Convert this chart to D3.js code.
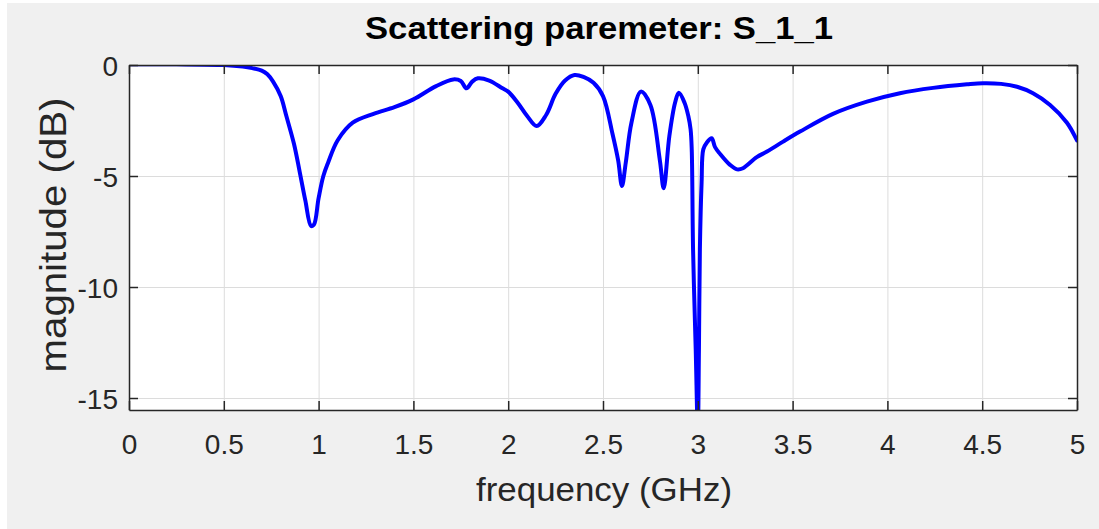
<!DOCTYPE html>
<html>
<head>
<meta charset="utf-8">
<script src="https://cdn.jsdelivr.net/npm/d3@7"></script>
<style>
  html, body { margin: 0; padding: 0; background: #fff; }
  svg text { font-family: "Liberation Sans", Arial, Helvetica, sans-serif; }
</style>
</head>
<body>
<svg id="chart" width="1099" height="529"></svg>
<script>
// S11 magnitude
const freq = [0, 0.25, 0.5, 0.6, 0.65, 0.7, 0.73, 0.76, 0.8, 0.83, 0.87, 0.9, 0.93, 0.96, 0.975,
  1.0, 1.025, 1.05, 1.1, 1.18, 1.29, 1.4, 1.5, 1.62, 1.71, 1.75, 1.78, 1.81, 1.84, 1.9, 1.97,
  2.0, 2.05, 2.1, 2.15, 2.2, 2.25, 2.3, 2.35, 2.4, 2.45, 2.5, 2.55, 2.58, 2.6, 2.62, 2.65,
  2.7, 2.75, 2.8, 2.82, 2.85, 2.88, 2.9, 2.93, 2.95, 2.962, 2.968, 2.975, 2.989, 3.0,
  3.006, 3.011, 3.02, 3.029, 3.047, 3.073, 3.091, 3.117, 3.17, 3.207, 3.238, 3.311, 3.365,
  3.45, 3.539, 3.713, 3.892, 4.066, 4.241, 4.42, 4.504, 4.6, 4.684, 4.768, 4.858, 4.947, 5.0];
const magDb = [0.03, 0.03, 0.0, -0.07, -0.14, -0.25, -0.42, -0.75, -1.4, -2.3, -3.55, -4.8, -6.1, -7.25, -7.2,
  -6.0, -5.0, -4.4, -3.4, -2.6, -2.2, -1.9, -1.55, -0.95, -0.65, -0.72, -1.05, -0.75, -0.6, -0.7, -1.05,
  -1.2, -1.7, -2.3, -2.75, -2.25, -1.3, -0.7, -0.45, -0.55, -0.8, -1.4, -3.1, -4.3, -5.45, -4.4, -2.6,
  -1.2, -1.8, -4.3, -5.55, -3.2, -1.7, -1.25, -1.7, -2.3, -2.9, -3.8, -8.3, -12.8, -16.5,
  -12.8, -8.3, -5.3, -3.8, -3.5, -3.3, -3.7, -4.0, -4.5, -4.7, -4.65, -4.15, -3.9,
  -3.45, -3.0, -2.2, -1.65, -1.27, -1.03, -0.87, -0.82, -0.85, -0.98, -1.27, -1.8, -2.6, -3.4];

const xTicks = [0, 0.5, 1, 1.5, 2, 2.5, 3, 3.5, 4, 4.5, 5];
const yTicks = [-15, -10, -5, 0];

const titleText = "Scattering paremeter: S_1_1";
const xLabel = "frequency (GHz)";
const yLabel = "magnitude (dB)";

const margin = {top: 65, right: 22, bottom: 119, left: 129};
const W = 1099, H = 529;
const width = W - margin.left - margin.right;
const height = H - margin.top - margin.bottom;
const ink = "#262626";

const svg = d3.select("#chart");

// figure background
svg.append("rect")
    .attr("x", 7).attr("y", 3)
    .attr("width", W - 7).attr("height", H - 3)
    .attr("fill", "#f0f0f0");

const x = d3.scaleLinear().domain([0, 5]).range([0, width]);
const y = d3.scaleLinear().domain([-15.54, 0]).range([height, 0]);

const g = svg.append("g").attr("transform", `translate(${margin.left},${margin.top})`);

g.append("rect").attr("width", width).attr("height", height).attr("fill", "#fff");

// grid
g.append("g")
    .attr("transform", `translate(0,${height})`)
    .call(d3.axisBottom(x).tickValues(xTicks).tickSize(-height).tickFormat(""))
    .call(a => a.select(".domain").remove())
    .call(a => a.selectAll("line").attr("stroke", "#dcdcdc").attr("stroke-width", 1));
g.append("g")
    .call(d3.axisLeft(y).tickValues(yTicks).tickSize(-width).tickFormat(""))
    .call(a => a.select(".domain").remove())
    .call(a => a.selectAll("line").attr("stroke", "#dcdcdc").attr("stroke-width", 1));

// data line, clipped to the axes
g.append("clipPath").attr("id", "plotclip")
    .append("rect").attr("width", width).attr("height", height);

const line = d3.line()
    .x((d, i) => x(freq[i]))
    .y(d => y(d))
    .curve(d3.curveCatmullRom.alpha(0.5));

g.append("path")
    .datum(magDb)
    .attr("clip-path", "url(#plotclip)")
    .attr("fill", "none")
    .attr("stroke", "#0000ff")
    .attr("stroke-width", 4)
    .attr("stroke-linejoin", "round")
    .attr("stroke-linecap", "round")
    .attr("d", line);

// axes with inward ticks (box on)
const styleAxis = a => {
    a.select(".domain").attr("stroke", ink).attr("stroke-width", 1.5);
    a.selectAll(".tick line").attr("stroke", ink).attr("stroke-width", 1.5);
    a.selectAll("text").attr("fill", ink).attr("font-size", 28)
        .attr("font-family", "'Liberation Sans', Arial, Helvetica, sans-serif");
};

g.append("g")
    .attr("transform", `translate(0,${height})`)
    .call(d3.axisBottom(x).tickValues(xTicks).tickSizeInner(-9).tickSizeOuter(0)
        .tickFormat(d => String(d)))
    .call(styleAxis)
    .call(a => a.selectAll("text").attr("y", 44).attr("dy", 0));

g.append("g")
    .call(d3.axisTop(x).tickValues(xTicks).tickSizeInner(-9).tickSizeOuter(0).tickFormat(""))
    .call(styleAxis);

g.append("g")
    .call(d3.axisLeft(y).tickValues(yTicks).tickSizeInner(-9).tickSizeOuter(0)
        .tickFormat(d => String(d)))
    .call(styleAxis)
    .call(a => a.selectAll("text").attr("x", -11).attr("dy", "0.36em"));

g.append("g")
    .attr("transform", `translate(${width},0)`)
    .call(d3.axisRight(y).tickValues(yTicks).tickSizeInner(-9).tickSizeOuter(0).tickFormat(""))
    .call(styleAxis);

// title and labels
svg.append("text")
    .attr("x", 599).attr("y", 39)
    .attr("text-anchor", "middle")
    .attr("font-size", 32).attr("font-weight", "bold")
    .attr("fill", "#000")
    .attr("textLength", 468).attr("lengthAdjust", "spacingAndGlyphs")
    .text(titleText);

svg.append("text")
    .attr("x", 604).attr("y", 501)
    .attr("text-anchor", "middle")
    .attr("font-size", 34)
    .attr("fill", ink)
    .attr("textLength", 256).attr("lengthAdjust", "spacingAndGlyphs")
    .text(xLabel);

svg.append("text")
    .attr("transform", "translate(66,235) rotate(-90)")
    .attr("text-anchor", "middle")
    .attr("font-size", 37)
    .attr("fill", ink)
    .attr("textLength", 275).attr("lengthAdjust", "spacingAndGlyphs")
    .text(yLabel);
</script>
</body>
</html>
